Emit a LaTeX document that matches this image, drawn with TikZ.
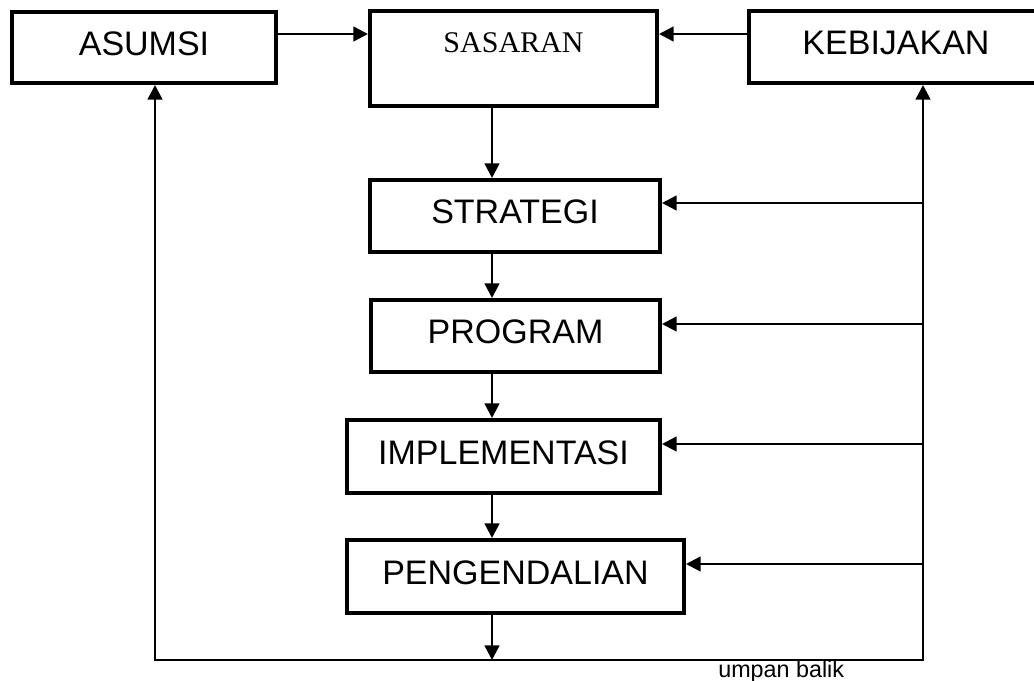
\documentclass[tikz,border=0pt]{standalone}
\usepackage{fontspec}
\setmainfont{Liberation Sans}
\newfontfamily\serifname{Liberation Serif}
\usetikzlibrary{arrows.meta,calc}
\tikzset{
  boxnode/.style={draw, line width=3pt, rectangle, inner sep=0pt, text depth=6pt, font=\fontsize{25.5}{30}\selectfont},
  conn/.style={line width=1.9pt, -{Triangle[length=11pt,width=11pt]}},
  plainline/.style={line width=1.9pt},
}
\begin{document}
\begin{tikzpicture}[x=0.75pt,y=-0.75pt]
\useasboundingbox (0,0) rectangle (1034,681);
% boxes
\node[boxnode, minimum width=198pt, minimum height=53.25pt] (asumsi) at (144,47.5) {ASUMSI};
\node[boxnode, minimum width=215.25pt, minimum height=71.25pt,
  label={[anchor=center, yshift=-25.5pt, text depth=0pt, font=\serifname\fontsize{22.5}{26}\selectfont]north:SASARAN}] (sas) at (513.5,58.5) {};
\node[boxnode, minimum width=220.5pt, minimum height=54pt] (keb) at (896,47) {KEBIJAKAN};
\node[boxnode, minimum width=217.5pt, minimum height=54pt] (str) at (515,216) {STRATEGI};
\node[boxnode, minimum width=216.75pt, minimum height=54pt] (prog) at (515.5,336) {PROGRAM};
\node[boxnode, minimum width=234.75pt, minimum height=54.75pt] (impl) at (503.5,456.5) {IMPLEMENTASI};
\node[boxnode, minimum width=252.75pt, minimum height=54.75pt] (peng) at (515.5,576.5) {PENGENDALIAN};
% helper coordinates
\coordinate (ytop) at (0,34);
\coordinate (xmid) at (492,0);
\coordinate (bl) at (155,660);
\coordinate (br) at (923,660);
\coordinate (r1) at (923,203);
\coordinate (r2) at (923,324);
\coordinate (r3) at (923,444);
\coordinate (r4) at (923,564);
% top arrows
\draw[conn] (asumsi.east |- ytop) -- (sas.west |- ytop);
\draw[conn] (keb.west |- ytop) -- (sas.east |- ytop);
% vertical chain
\draw[conn] (sas.south -| xmid) -- (str.north -| xmid);
\draw[conn] (str.south -| xmid) -- (prog.north -| xmid);
\draw[conn] (prog.south -| xmid) -- (impl.north -| xmid);
\draw[conn] (impl.south -| xmid) -- (peng.north -| xmid);
\draw[conn] (peng.south -| xmid) -- (bl -| xmid);
% feedback loop
\draw[plainline, line cap=rect] (bl) -- (br);
\draw[conn] (bl) -- (asumsi.south -| bl);
\draw[conn] (br) -- (keb.south -| br);
\draw[conn] (r1) -- (r1 -| str.east);
\draw[conn] (r2) -- (r2 -| prog.east);
\draw[conn] (r3) -- (r3 -| impl.east);
\draw[conn] (r4) -- (r4 -| peng.east);
% label
\node[anchor=base west, inner sep=0pt, font=\fontsize{17.5}{20}\selectfont] (ub) at (718,677) {umpan balik};
\end{tikzpicture}
\end{document}
